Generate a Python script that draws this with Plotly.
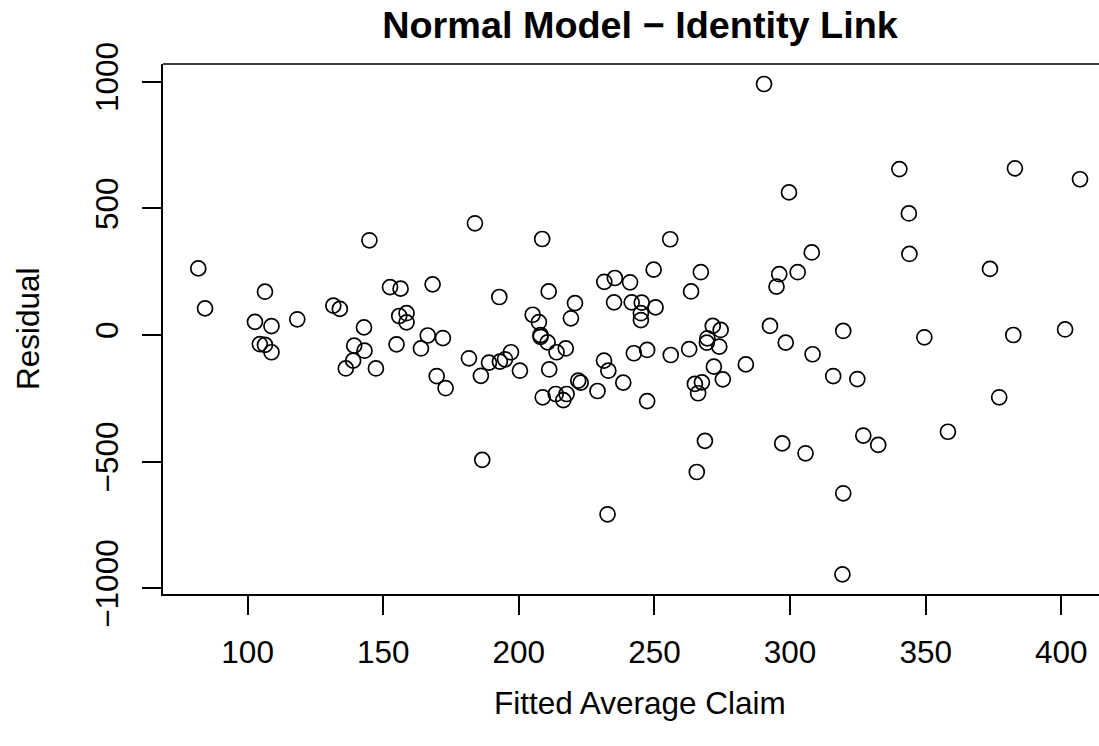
import plotly.graph_objects as go

# Fitted average claim (x) and residual (y)
fitted = [81.8, 84.3, 106.4, 102.7, 108.8, 118.3, 131.6, 134.0, 144.9, 142.9,
          152.5, 156.4, 168.2, 155.9, 158.6, 158.6, 166.4, 172.0, 183.8, 104.5,
          106.4, 108.8, 139.3, 143.1, 138.9, 136.2, 147.3, 154.9, 163.9, 181.6,
          169.7, 173.0, 186.0, 186.5,
          290.4, 208.6, 255.8, 192.8, 211.0, 205.1, 207.4, 220.7, 219.2, 231.5,
          235.4, 241.0, 235.1, 241.6, 245.3, 245.0, 245.0, 250.4, 249.7, 267.1,
          263.5, 271.5, 274.4, 292.6, 208.0, 189.0, 193.0, 194.9, 197.1, 200.4,
          208.0, 210.6, 213.9, 217.3, 211.2, 208.8, 213.6, 217.6, 216.4, 221.9,
          222.8, 229.0, 231.4, 233.0, 238.5, 242.4, 247.3, 247.3, 256.0, 232.7,
          262.8, 269.5, 269.3, 273.9, 271.9, 283.7, 275.2, 264.9, 267.5, 266.1,
          268.6, 265.6,
          296.0, 295.0, 299.6, 308.0, 302.8, 340.3, 343.8, 344.0, 382.9, 406.9,
          373.7, 298.4, 319.6, 349.5, 382.3, 401.4, 308.3, 315.9, 324.8, 377.1,
          358.2, 327.0, 332.5, 297.1, 305.7, 319.6, 319.3]

residual = [263, 105, 171, 52, 35, 62, 116, 103, 374, 30,
            189, 183, 200, 75, 86, 50, -2, -12, 441, -36,
            -39, -68, -42, -62, -101, -132, -132, -37, -53, -92,
            -162, -210, -161, -493,
            991, 379, 378, 150, 172, 80, 51, 126, 66, 210,
            225, 208, 129, 129, 128, 86, 59, 109, 258, 248,
            172, 36, 20, 36, 0, -109, -105, -96, -68, -141,
            -7, -29, -68, -53, -136, -246, -233, -233, -257, -180,
            -188, -221, -101, -141, -188, -72, -59, -261, -79, -708,
            -56, -13, -30, -46, -125, -116, -175, -193, -187, -230,
            -418, -541,
            240, 191, 563, 326, 248, 655, 480, 320, 658, 615,
            261, -30, 16, -9, 0, 22, -76, -162, -174, -246,
            -382, -397, -434, -428, -467, -625, -945]

x_ticks = [100, 150, 200, 250, 300, 350, 400]
x_ticklabels = ["100", "150", "200", "250", "300", "350", "400"]
y_ticks = [-1000, -500, 0, 500, 1000]
y_ticklabels = ["\u22121000", "\u2212500", "0", "500", "1000"]

title_text = "Normal Model \u2212 Identity Link"
x_title = "Fitted Average Claim"
y_title = "Residual"

FONT = "Liberation Sans, Arial, Helvetica, sans-serif"
FS = 31.5

fig = go.Figure()
fig.add_trace(go.Scatter(
    x=fitted, y=residual, mode="markers",
    marker=dict(symbol="circle-open", size=15, color="black",
                line=dict(color="black", width=1.7)),
    showlegend=False, cliponaxis=False,
))

W, H = 1099, 746
L, T, B, R = 163, 64, 152, 0

fig.update_layout(
    width=W, height=H,
    margin=dict(l=L, r=R, t=T, b=B, pad=0),
    paper_bgcolor="white", plot_bgcolor="white",
    font=dict(family=FONT, color="black", size=FS),
    xaxis=dict(range=[68.8, 413.9], tickmode="array", tickvals=x_ticks,
               ticktext=x_ticklabels, ticks="outside", ticklen=19,
               tickwidth=1.5, tickcolor="black", showline=True,
               linecolor="black", linewidth=1.5, showgrid=False,
               zeroline=False, tickfont=dict(size=FS),
               ticklabelstandoff=10),
    yaxis=dict(range=[-1022.6, 1070.0], tickmode="array", tickvals=y_ticks,
               ticktext=y_ticklabels, ticks="outside", ticklen=19,
               tickwidth=1.5, tickcolor="black", showline=True,
               linecolor="black", linewidth=1.5, showgrid=False,
               zeroline=False, tickangle=-90, tickfont=dict(size=FS),
               ticklabelstandoff=12),
    title=dict(text="<b>" + title_text + "</b>", x=640 / W, xanchor="center",
               y=1 - 25 / H, yanchor="middle",
               font=dict(size=37.8, family=FONT, color="black")),
    shapes=[dict(type="line", xref="paper", yref="paper", x0=0, x1=1,
                 y0=1, y1=1, line=dict(color="black", width=1.5))],
    annotations=[
        dict(text=x_title, xref="paper", yref="paper",
             x=(640 - L) / (W - L - R), y=-(703 - (H - B)) / (H - T - B),
             xanchor="center", yanchor="middle", showarrow=False,
             font=dict(size=FS, family=FONT, color="black")),
        dict(text=y_title, xref="paper", yref="paper",
             x=-(L - 28) / (W - L - R), y=0.5, textangle=-90,
             xanchor="center", yanchor="middle", showarrow=False,
             font=dict(size=FS, family=FONT, color="black")),
    ],
)

fig.write_html("out.html")
